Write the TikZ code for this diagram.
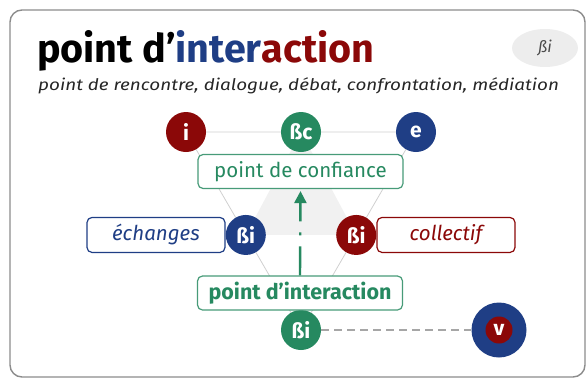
\documentclass[tikz,border=0pt]{standalone}
\usepackage{fontspec}
\setmainfont{Fira Sans}
\usepackage{tikz}
\usetikzlibrary{calc}
\usetikzlibrary{positioning}
\usetikzlibrary{arrows.meta, shapes.geometric}

\definecolor{ptred}{RGB}{139,8,8}
\definecolor{ptblue}{RGB}{31,62,133}
\definecolor{ptgreen}{RGB}{38,137,96}
\definecolor{edgegray}{RGB}{208,208,208}
\definecolor{innergray}{RGB}{241,241,241}

\begin{document}
\begin{tikzpicture}[
  x=1pt,y=-1pt,
  line cap=round,line join=round,
  >=Latex
]
  \tikzset{
    frame/.style={line width=1.4pt, draw=black!45, rounded corners=12pt},
    edge/.style={line width=0.8pt, draw=edgegray},
    flow/.style={line width=2.4pt, draw=ptgreen, line cap=butt,
      dash pattern=on 29pt off 11pt on 3pt off 11pt,
      -{Triangle[length=12pt,width=12pt]}},
    link/.style={line width=2.2pt, draw=black!35, line cap=butt, dash pattern=on 8pt off 5pt},
    dot/.style={circle,fill=#1,text=white,minimum size=40pt,inner sep=0pt,
      font=\bfseries\fontsize{21}{21}\selectfont},
    tag/.style={draw=#1,rounded corners=5pt,line width=1.2pt,fill=white,text=#1,
      minimum width=138pt,minimum height=35pt,inner sep=0pt,
      font=\itshape\fontsize{20.5}{20.5}\selectfont},
    core/.style={draw=ptgreen!85,rounded corners=5pt,line width=1.2pt,fill=white,text=ptgreen,
      minimum width=205pt,minimum height=34pt,inner sep=0pt}
  }

  % Outer frame
  \useasboundingbox (0,0) rectangle (588,380);
  \draw[frame] (10,10) rectangle (585,377);

  % Heading
  \node[anchor=base west,inner sep=0pt] (title) at (37,62)
    {\fontsize{39.5}{39.5}\selectfont\bfseries point d’\textcolor{ptblue}{inter}\textcolor{ptred}{action}};
  \node[anchor=base west,inner sep=0pt,text=black!85] (subtitle) at (38,90)
    {\scalebox{1.18}[1]{\itshape\fontsize{16}{16}\selectfont point de rencontre, dialogue, débat, confrontation, médiation}};
  \node[ellipse,fill=black!7,minimum width=66pt,minimum height=38pt,inner sep=0pt,text=black!70,
    font=\itshape\fontsize{16}{16}\selectfont] (badge) at (545,48) {ßi};

  % Triangle corners
  \coordinate (I) at (186,132);
  \coordinate (E) at (416,132);
  \coordinate (B) at (301,330);
  \coordinate (C) at ($(I)!0.5!(E)$);
  \coordinate (L) at ($(I)!0.52!(B)$);
  \coordinate (R) at ($(E)!0.52!(B)$);

  \fill[innergray] (C) -- (L) -- (R) -- cycle;
  \draw[edge] (I) -- (E) -- (B) -- cycle;

  % Points
  \node[dot=ptred]   (i)  at (I) {i};
  \node[dot=ptgreen] (sc) at (C) {ßc};
  \node[dot=ptblue]  (e)  at (E) {e};
  \node[dot=ptblue]  (sl) at (L) {ßi};
  \node[dot=ptred]   (sr) at (R) {ßi};
  \node[dot=ptgreen] (sb) at (B) {ßi};
  \node[dot=ptblue,minimum size=55pt] (v) at (499,330) {};
  \node[dot=ptred,minimum size=27pt]  (vin) at (v) {v};

  % Labels
  \node[tag=ptblue,left=0pt of sl]  (echanges) {échanges};
  \node[tag=ptred,right=0pt of sr]  (collectif) {collectif};
  \node[core,font=\fontsize{20.5}{20.5}\selectfont] (conf) at (300.5,171.5) {point de confiance};
  \node[core,font=\bfseries\fontsize{21.5}{21.5}\selectfont] (inter) at (300,293) {point d’interaction};

  % Links
  \draw[flow] (inter.north) -- ($(conf.south)+(0,2)$);
  \draw[link] (sb) -- (v);
\end{tikzpicture}
\end{document}
